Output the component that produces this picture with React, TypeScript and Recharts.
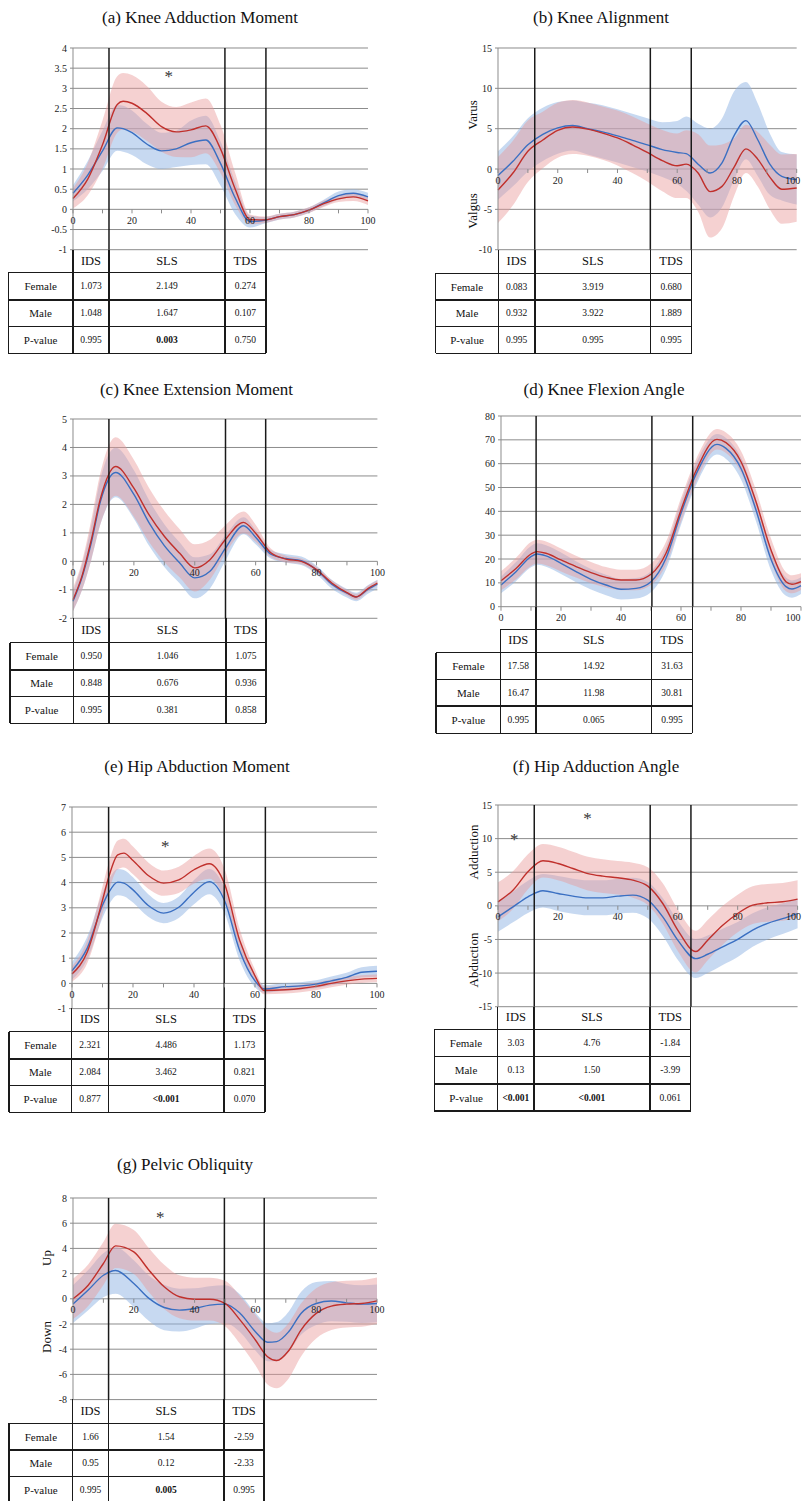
import React from 'react';
import { ComposedChart, Area, Line, XAxis, YAxis, CartesianGrid, ReferenceLine, ReferenceDot } from 'recharts';

const FONT = "'Liberation Serif', 'Times New Roman', serif";
const RED = '#c0302c';
const BLUE = '#3a6fc2';
const GRID = '#8c8c8c';
const INK = '#1a1a1a';

// x ticks along the zero line (every 10 %, labels every 20 %)
const xTickValues = [0, 10, 20, 30, 40, 50, 60, 70, 80, 90, 100];
const xTickLabels = ['0', '', '20', '', '40', '', '60', '', '80', '', '100'];
const phaseNames = ['IDS', 'SLS', 'TDS'];
const rowNames = ['Female', 'Male', 'P-value'];

// (a) Knee Adduction Moment
const aX = [0, 5, 10, 15, 17, 20, 25, 30, 35, 40, 45, 50, 55, 60, 65, 70, 75, 80, 85, 90, 95, 100];
const aFemale = [0.27, 0.75, 1.6, 2.6, 2.68, 2.63, 2.38, 2.05, 1.92, 1.97, 2.07, 1.5, 0.5, -0.25, -0.26, -0.18, -0.13, -0.02, 0.14, 0.26, 0.31, 0.21];
const aFemaleSd = [0.25, 0.4, 0.6, 0.7, 0.7, 0.7, 0.68, 0.62, 0.62, 0.68, 0.68, 0.6, 0.4, 0.12, 0.08, 0.07, 0.07, 0.07, 0.08, 0.08, 0.1, 0.1];
const aMale = [0.4, 0.85, 1.45, 2.02, 2.0, 1.9, 1.62, 1.45, 1.5, 1.65, 1.72, 1.14, 0.28, -0.3, -0.27, -0.18, -0.13, -0.02, 0.16, 0.34, 0.4, 0.31];
const aMaleSd = [0.2, 0.35, 0.5, 0.57, 0.57, 0.55, 0.5, 0.45, 0.45, 0.55, 0.6, 0.55, 0.4, 0.15, 0.08, 0.07, 0.07, 0.07, 0.08, 0.1, 0.1, 0.1];
const aTicks = [-1, -0.5, 0, 0.5, 1, 1.5, 2, 2.5, 3, 3.5, 4];
const aPhases = [12.2, 51.5, 65.4];
const aTable = [['1.073', '2.149', '0.274'], ['1.048', '1.647', '0.107'], ['0.995', '0.003', '0.750']];
const aBold = [false, true, false];

// (b) Knee Alignment
const bX = [0, 5, 10, 15, 20, 25, 30, 35, 40, 45, 50, 55, 60, 63, 67, 71, 75, 79, 83, 87, 91, 95, 100];
const bFemale = [-2.6, -0.5, 2.2, 3.6, 4.8, 5.2, 4.95, 4.45, 3.85, 3.0, 2.05, 1.05, 0.4, 0.6, -0.5, -2.8, -2.15, 0.2, 2.5, 1.2, -1.0, -2.5, -2.35];
const bFemaleSd = [4.1, 4.0, 3.8, 3.5, 3.4, 3.35, 3.3, 3.3, 3.4, 3.5, 3.6, 3.8, 4.0, 4.2, 4.8, 5.7, 5.2, 3.6, 3.0, 3.4, 4.0, 4.3, 4.2];
const bMale = [-0.8, 0.95, 3.0, 4.3, 5.1, 5.4, 5.0, 4.6, 4.1, 3.55, 3.0, 2.4, 2.05, 1.9, 0.6, -0.5, 0.75, 4.1, 6.0, 3.6, 0.6, -0.9, -1.3];
const bMaleSd = [3.0, 3.1, 3.3, 3.3, 3.2, 3.1, 3.2, 3.3, 3.3, 3.3, 3.3, 3.4, 3.9, 4.6, 5.0, 5.5, 5.5, 5.5, 4.8, 4.5, 3.8, 3.0, 3.1];
const bTicks = [-10, -5, 0, 5, 10, 15];
const bPhases = [12.3, 51.0, 64.7];
const bTable = [['0.083', '3.919', '0.680'], ['0.932', '3.922', '1.889'], ['0.995', '0.995', '0.995']];
const bBold = [false, false, false];

// (c) Knee Extension Moment
const cX = [0, 3, 6, 9, 14, 20, 25, 30, 35, 40, 45, 50, 56, 60, 65, 70, 75, 80, 85, 90, 93, 97, 100];
const cFemale = [-1.35, -0.5, 0.75, 2.2, 3.33, 2.57, 1.63, 0.88, 0.29, -0.23, 0.06, 0.76, 1.37, 0.99, 0.3, 0.08, 0.0, -0.29, -0.76, -1.1, -1.25, -0.95, -0.76];
const cFemaleSd = [0.4, 0.5, 0.7, 0.9, 1.03, 1.0, 0.95, 0.9, 0.85, 0.83, 0.7, 0.5, 0.38, 0.3, 0.15, 0.12, 0.1, 0.1, 0.1, 0.1, 0.1, 0.1, 0.1];
const cMale = [-1.4, -0.55, 0.65, 2.1, 3.12, 2.35, 1.35, 0.55, -0.05, -0.58, -0.35, 0.45, 1.25, 0.85, 0.25, 0.1, 0.02, -0.3, -0.8, -1.12, -1.25, -0.98, -0.8];
const cMaleSd = [0.35, 0.45, 0.6, 0.8, 0.87, 0.85, 0.8, 0.75, 0.72, 0.72, 0.6, 0.45, 0.3, 0.25, 0.15, 0.15, 0.15, 0.15, 0.15, 0.15, 0.15, 0.15, 0.15];
const cTicks = [-2, -1, 0, 1, 2, 3, 4, 5];
const cPhases = [11.8, 50.1, 63.3];
const cTable = [['0.950', '1.046', '1.075'], ['0.848', '0.676', '0.936'], ['0.995', '0.381', '0.858']];
const cBold = [false, false, false];

// (d) Knee Flexion Angle
const dX = [0, 5, 10, 12, 15, 20, 25, 30, 35, 40, 45, 50, 55, 60, 65, 72, 75, 80, 85, 90, 95, 97, 100];
const dFemale = [10.9, 16, 22.1, 23.1, 22.4, 19.6, 16.8, 14.3, 12.3, 11.2, 11.2, 13.6, 22.4, 40.6, 57, 70.2, 68.8, 60.8, 44, 23.8, 10.5, 9.4, 10.5];
const dFemaleSd = [4, 4.5, 5, 5, 5, 4.8, 4.6, 4.5, 4.3, 4.3, 4.3, 4.5, 4.8, 5, 4.8, 4.3, 4.3, 4.5, 4.8, 4.8, 4, 3.8, 3.5];
const dMale = [9.1, 14.7, 21, 22.1, 21.3, 18.2, 14.7, 11.5, 9.1, 7.3, 7.7, 10.5, 20.3, 39.2, 55.5, 68.1, 66.4, 58, 40.6, 19.9, 8.4, 7.4, 8.8];
const dMaleSd = [3.5, 4, 4.5, 4.5, 4.5, 4.5, 4.4, 4.3, 4.3, 4.3, 4.3, 4.4, 4.6, 4.8, 4.6, 4.3, 4.4, 4.6, 4.8, 4.6, 3.8, 3.6, 3.5];
const dTicks = [0, 10, 20, 30, 40, 50, 60, 70, 80];
const dPhases = [11.7, 50.3, 63.9];
const dTable = [['17.58', '14.92', '31.63'], ['16.47', '11.98', '30.81'], ['0.995', '0.065', '0.995']];
const dBold = [false, false, false];

// (e) Hip Abduction Moment
const eX = [0, 5, 10, 12, 15, 17, 20, 25, 30, 35, 40, 45, 50, 55, 60, 63, 70, 75, 80, 85, 90, 95, 100];
const eFemale = [0.37, 1.25, 3.3, 4.2, 5.1, 5.17, 4.88, 4.28, 3.98, 4.11, 4.51, 4.75, 3.95, 1.7, 0.3, -0.28, -0.25, -0.2, -0.12, 0, 0.1, 0.17, 0.2];
const eFemaleSd = [0.3, 0.45, 0.55, 0.57, 0.57, 0.57, 0.55, 0.52, 0.5, 0.52, 0.55, 0.6, 0.6, 0.45, 0.25, 0.15, 0.15, 0.15, 0.15, 0.15, 0.15, 0.15, 0.15];
const eMale = [0.5, 1.4, 3.1, 3.6, 4.02, 3.98, 3.71, 3.09, 2.79, 3.02, 3.62, 4.04, 3.29, 1.3, 0.1, -0.22, -0.13, -0.1, -0.03, 0.1, 0.24, 0.44, 0.48];
const eMaleSd = [0.35, 0.45, 0.5, 0.5, 0.52, 0.52, 0.5, 0.45, 0.4, 0.42, 0.48, 0.5, 0.5, 0.4, 0.25, 0.15, 0.15, 0.15, 0.15, 0.17, 0.18, 0.2, 0.22];
const eTicks = [-1, 0, 1, 2, 3, 4, 5, 6, 7];
const ePhases = [12.0, 49.9, 63.4];
const eTable = [['2.321', '4.486', '1.173'], ['2.084', '3.462', '0.821'], ['0.877', '<0.001', '0.070']];
const eBold = [false, true, false];

// (f) Hip Adduction Angle
const fX = [0, 5, 10, 15, 20, 25, 30, 35, 40, 45, 50, 55, 60, 66, 70, 75, 80, 85, 90, 95, 100];
const fFemale = [0.6, 2.33, 5.07, 6.7, 6.3, 5.56, 4.8, 4.42, 4.17, 3.82, 2.93, 0.35, -3.6, -6.8, -5.1, -2.9, -1.14, 0.1, 0.45, 0.6, 1.0];
const fFemaleSd = [2.9, 2.8, 2.6, 2.5, 2.5, 2.5, 2.5, 2.5, 2.5, 2.6, 2.8, 3.0, 3.1, 3.1, 3.0, 2.9, 2.8, 2.8, 2.8, 2.8, 2.8];
const fMale = [-1.64, -0.15, 1.34, 2.24, 1.84, 1.44, 1.19, 1.19, 1.44, 1.59, 0.84, -1.64, -5.1, -7.85, -7.2, -6.1, -5.0, -3.6, -2.6, -1.9, -1.14];
const fMaleSd = [2.2, 2.3, 2.4, 2.5, 2.6, 2.6, 2.6, 2.6, 2.6, 2.6, 2.7, 2.8, 2.9, 2.9, 2.8, 2.7, 2.6, 2.5, 2.4, 2.3, 2.2];
const fTicks = [-15, -10, -5, 0, 5, 10, 15];
const fPhases = [12.1, 50.8, 64.4];
const fTable = [['3.03', '4.76', '-1.84'], ['0.13', '1.50', '-3.99'], ['<0.001', '<0.001', '0.061']];
const fBold = [true, true, false];

// (g) Pelvic Obliquity
const gX = [0, 5, 10, 14, 20, 25, 30, 35, 40, 45, 50, 55, 60, 64, 67, 71, 75, 80, 85, 90, 95, 100];
const gFemale = [0, 1.08, 2.8, 4.2, 3.72, 2.27, 0.95, 0.16, -0.03, -0.03, -0.37, -1.69, -3.27, -4.6, -4.9, -4.1, -2.48, -1.16, -0.58, -0.42, -0.37, -0.16];
const gFemaleSd = [1.6, 1.65, 1.7, 1.75, 1.75, 1.75, 1.75, 1.7, 1.7, 1.7, 1.8, 1.9, 2.0, 2.2, 2.2, 2.2, 2.1, 2.0, 1.9, 1.85, 1.85, 1.85];
const gMale = [-0.42, 0.69, 1.87, 2.25, 1.21, 0.03, -0.69, -0.9, -0.77, -0.5, -0.42, -1.16, -2.61, -3.45, -3.4, -2.6, -1.16, -0.37, -0.18, -0.32, -0.42, -0.37];
const gMaleSd = [1.5, 1.6, 1.75, 1.85, 1.85, 1.8, 1.8, 1.7, 1.6, 1.5, 1.5, 1.5, 1.5, 1.5, 1.55, 1.6, 1.7, 1.7, 1.6, 1.5, 1.5, 1.5];
const gTicks = [-8, -6, -4, -2, 0, 2, 4, 6, 8];
const gPhases = [11.7, 49.8, 62.9];
const gTable = [['1.66', '1.54', '-2.59'], ['0.95', '0.12', '-2.33'], ['0.995', '0.005', '0.995']];
const gBold = [false, true, false];

type Star = { x: number; y: number };
type AxisWord = { text: string; x: number; y: number };

type PanelDef = {
  title: string;
  titleX: number;
  titleY: number;
  x: number[];
  female: number[];
  femaleSd: number[];
  male: number[];
  maleSd: number[];
  ticks: number[];
  phases: number[];
  table: string[][];
  bold: boolean[];
  stars: Star[];
  words: AxisWord[];
  // layout (page pixels)
  left: number;
  top: number;
  right: number;
  bottom: number;
  tableLeft: number;
  headerTop: number;
  rowEdges: number[];
  lastLabelShift: number;
};

const panels: PanelDef[] = [
  {
    title: '(a) Knee Adduction Moment', titleX: 200, titleY: 18,
    x: aX, female: aFemale, femaleSd: aFemaleSd, male: aMale, maleSd: aMaleSd,
    ticks: aTicks, phases: aPhases, table: aTable, bold: aBold,
    stars: [{ x: 32.5, y: 3.3 }], words: [],
    left: 73, top: 48.3, right: 368, bottom: 250,
    tableLeft: 8.3, headerTop: 250, rowEdges: [272.7, 300, 326.7, 353.3], lastLabelShift: 0,
  },
  {
    title: '(b) Knee Alignment', titleX: 601, titleY: 18,
    x: bX, female: bFemale, femaleSd: bFemaleSd, male: bMale, maleSd: bMaleSd,
    ticks: bTicks, phases: bPhases, table: bTable, bold: bBold,
    stars: [], words: [{ text: 'Varus', x: 472.7, y: 115.3 }, { text: 'Valgus', x: 472.5, y: 211.3 }],
    left: 498.3, top: 48.3, right: 797, bottom: 250,
    tableLeft: 435.7, headerTop: 250, rowEdges: [273.3, 300, 326.7, 353.3], lastLabelShift: -4,
  },
  {
    title: '(c) Knee Extension Moment', titleX: 196.5, titleY: 390,
    x: cX, female: cFemale, femaleSd: cFemaleSd, male: cMale, maleSd: cMaleSd,
    ticks: cTicks, phases: cPhases, table: cTable, bold: cBold,
    stars: [], words: [],
    left: 73.3, top: 419, right: 377.7, bottom: 618.3,
    tableLeft: 10, headerTop: 618.3, rowEdges: [642.7, 670, 696.7, 723.3], lastLabelShift: 0,
  },
  {
    title: '(d) Knee Flexion Angle', titleX: 604, titleY: 390,
    x: dX, female: dFemale, femaleSd: dFemaleSd, male: dMale, maleSd: dMaleSd,
    ticks: dTicks, phases: dPhases, table: dTable, bold: dBold,
    stars: [], words: [],
    left: 500.7, top: 416, right: 800.7, bottom: 606.7,
    tableLeft: 436, headerTop: 629.3, rowEdges: [652.7, 679.3, 706, 733.3], lastLabelShift: -8,
  },
  {
    title: '(e) Hip Abduction Moment', titleX: 197, titleY: 767,
    x: eX, female: eFemale, femaleSd: eFemaleSd, male: eMale, maleSd: eMaleSd,
    ticks: eTicks, phases: ePhases, table: eTable, bold: eBold,
    stars: [{ x: 30.6, y: 5.44 }], words: [],
    left: 71.7, top: 806.7, right: 376.7, bottom: 1008.3,
    tableLeft: 9, headerTop: 1008.3, rowEdges: [1031.7, 1059, 1085.7, 1112.3], lastLabelShift: 0,
  },
  {
    title: '(f) Hip Adduction Angle', titleX: 596, titleY: 767,
    x: fX, female: fFemale, femaleSd: fFemaleSd, male: fMale, maleSd: fMaleSd,
    ticks: fTicks, phases: fPhases, table: fTable, bold: fBold,
    stars: [{ x: 5.4, y: 10.0 }, { x: 29.9, y: 13.0 }],
    words: [{ text: 'Adduction', x: 474, y: 851.7 }, { text: 'Abduction', x: 474, y: 960 }],
    left: 497.7, top: 805, right: 797.3, bottom: 1006.7,
    tableLeft: 434.3, headerTop: 1006.7, rowEdges: [1029.3, 1056.7, 1084, 1111], lastLabelShift: -4,
  },
  {
    title: '(g) Pelvic Obliquity', titleX: 185, titleY: 1165,
    x: gX, female: gFemale, femaleSd: gFemaleSd, male: gMale, maleSd: gMaleSd,
    ticks: gTicks, phases: gPhases, table: gTable, bold: gBold,
    stars: [{ x: 28.7, y: 6.5 }], words: [{ text: 'Up', x: 46.7, y: 1258 }, { text: 'Down', x: 46.7, y: 1336.7 }],
    left: 72.7, top: 1197.7, right: 376.7, bottom: 1399.3,
    tableLeft: 9, headerTop: 1399.3, rowEdges: [1423.3, 1450, 1476.7, 1503.4], lastLabelShift: 0,
  },
];

const YW = 40;
const MT = 10;
const MR = 22;
const MB = 22;

const xTickShape = (label: string, shift: number) => (props: any) => {
  const { cx, cy } = props;
  return (
    <g>
      <line x1={cx} x2={cx} y1={cy} y2={cy + 4} stroke={GRID} strokeWidth={1} />
      {label !== '' && (
        <text x={cx + shift} y={cy + 14.5} textAnchor="middle" fontSize={10} fontFamily={FONT} fill="#222">
          {label}
        </text>
      )}
    </g>
  );
};

const starShape = (props: any) => (
  <text x={props.cx} y={props.cy + 6} textAnchor="middle" fontSize={17} fontFamily={FONT} fill="#333">
    *
  </text>
);

const Rule = ({ x, y, w, h }: { x: number; y: number; w: number; h: number }) => (
  <div style={{ position: 'absolute', left: x, top: y, width: w, height: h, background: INK }} />
);

const Cell = ({ x1, x2, y1, y2, text, size, bold }: { x1: number; x2: number; y1: number; y2: number; text: string; size: number; bold?: boolean }) => (
  <div
    style={{
      position: 'absolute', left: x1, top: y1, width: x2 - x1, height: y2 - y1,
      display: 'flex', alignItems: 'center', justifyContent: 'center',
      fontSize: size, fontFamily: FONT, fontWeight: bold ? 700 : 400, color: '#111', whiteSpace: 'nowrap',
    }}
  >
    {text}
  </div>
);

const Panel = ({ p }: { p: PanelDef }) => {
  const plotW = p.right - p.left;
  const plotH = p.bottom - p.top;
  const rows = p.x.map((x, i) => ({
    x,
    f: p.female[i],
    m: p.male[i],
    fBand: [p.female[i] - p.femaleSd[i], p.female[i] + p.femaleSd[i]],
    mBand: [p.male[i] - p.maleSd[i], p.male[i] + p.maleSd[i]],
  }));
  const domain: [number, number] = [p.ticks[0], p.ticks[p.ticks.length - 1]];
  const colX = [p.tableLeft, p.left, ...p.phases.map((ph) => p.left + (plotW * ph) / 100)];
  const [hb, r1, r2, r3] = p.rowEdges;
  const rowY = [hb, r1, r2, r3];
  const T = 1.5;

  return (
    <>
      <div
        style={{
          position: 'absolute', left: p.titleX, top: p.titleY, transform: 'translate(-50%, -50%)',
          fontFamily: FONT, fontSize: 17, color: '#111', whiteSpace: 'nowrap',
        }}
      >
        {p.title}
      </div>
      <div style={{ position: 'absolute', left: p.left - YW, top: p.top - MT }}>
        <ComposedChart
          width={plotW + YW + MR}
          height={plotH + MT + MB}
          data={rows}
          margin={{ top: MT, right: MR, bottom: MB, left: 0 }}
        >
          <CartesianGrid vertical={false} stroke={GRID} strokeWidth={1} />
          <XAxis type="number" dataKey="x" domain={[0, 100]} hide />
          <YAxis
            type="number"
            domain={domain}
            ticks={p.ticks}
            interval={0}
            allowDataOverflow
            width={YW}
            stroke={GRID}
            tickSize={3}
            tickMargin={3}
            tick={{ fontSize: 10, fontFamily: FONT, fill: '#222' }}
          />
          <Area type="monotone" dataKey="mBand" stroke="none" fill="#8fb4e3" fillOpacity={0.5} isAnimationActive={false} activeDot={false} />
          <Area type="monotone" dataKey="fBand" stroke="none" fill="#e89a9a" fillOpacity={0.45} isAnimationActive={false} activeDot={false} />
          <Line type="monotone" dataKey="m" stroke={BLUE} strokeWidth={1.4} dot={false} isAnimationActive={false} />
          <Line type="monotone" dataKey="f" stroke={RED} strokeWidth={1.4} dot={false} isAnimationActive={false} />
          {p.phases.map((ph) => (
            <ReferenceLine key={ph} x={ph} stroke={INK} strokeWidth={T} />
          ))}
          {xTickValues.map((t, i) => (
            <ReferenceDot
              key={t}
              x={t}
              y={0}
              r={0}
              ifOverflow="visible"
              shape={xTickShape(xTickLabels[i], t === 100 ? p.lastLabelShift : 0)}
            />
          ))}
          {p.stars.map((s, i) => (
            <ReferenceDot key={'s' + i} x={s.x} y={s.y} r={0} ifOverflow="visible" shape={starShape} />
          ))}
        </ComposedChart>
      </div>
      {p.words.map((w) => (
        <div
          key={w.text}
          style={{
            position: 'absolute', left: w.x, top: w.y, transform: 'translate(-50%, -50%) rotate(-90deg)',
            fontFamily: FONT, fontSize: 13, color: '#111', whiteSpace: 'nowrap',
          }}
        >
          {w.text}
        </div>
      ))}
      {/* table lines */}
      <Rule x={p.left - T / 2} y={p.headerTop} w={T} h={r3 - p.headerTop} />
      {colX.slice(2).map((cx) => (
        <Rule key={cx} x={cx - T / 2} y={p.bottom} w={T} h={r3 - p.bottom} />
      ))}
      <Rule x={p.tableLeft - T / 2} y={hb} w={T} h={r3 - hb} />
      {rowY.map((y) => (
        <Rule key={y} x={p.tableLeft} y={y - T / 2} w={colX[4] - p.tableLeft} h={T} />
      ))}
      {p.headerTop > p.bottom && <Rule x={p.left} y={p.headerTop - T / 2} w={colX[4] - p.left} h={T} />}
      {phaseNames.map((n, i) => (
        <Cell key={n} x1={colX[i + 1]} x2={colX[i + 2]} y1={p.headerTop} y2={hb} text={n} size={12.5} />
      ))}
      {rowNames.map((n, r) => (
        <React.Fragment key={n}>
          <Cell x1={colX[0]} x2={colX[1]} y1={rowY[r]} y2={rowY[r + 1]} text={n} size={11} />
          {p.table[r].map((v, c) => (
            <Cell
              key={c}
              x1={colX[c + 1]}
              x2={colX[c + 2]}
              y1={rowY[r]}
              y2={rowY[r + 1]}
              text={v}
              size={9.5}
              bold={r === 2 && p.bold[c]}
            />
          ))}
        </React.Fragment>
      ))}
    </>
  );
};

export default function App() {
  return (
    <div
      style={{
        position: 'absolute', left: 0, top: 0, width: 802, height: 1501, overflow: 'hidden',
        background: '#fff', fontFamily: FONT,
      }}
    >
      {panels.map((p) => (
        <Panel key={p.title} p={p} />
      ))}
    </div>
  );
}
